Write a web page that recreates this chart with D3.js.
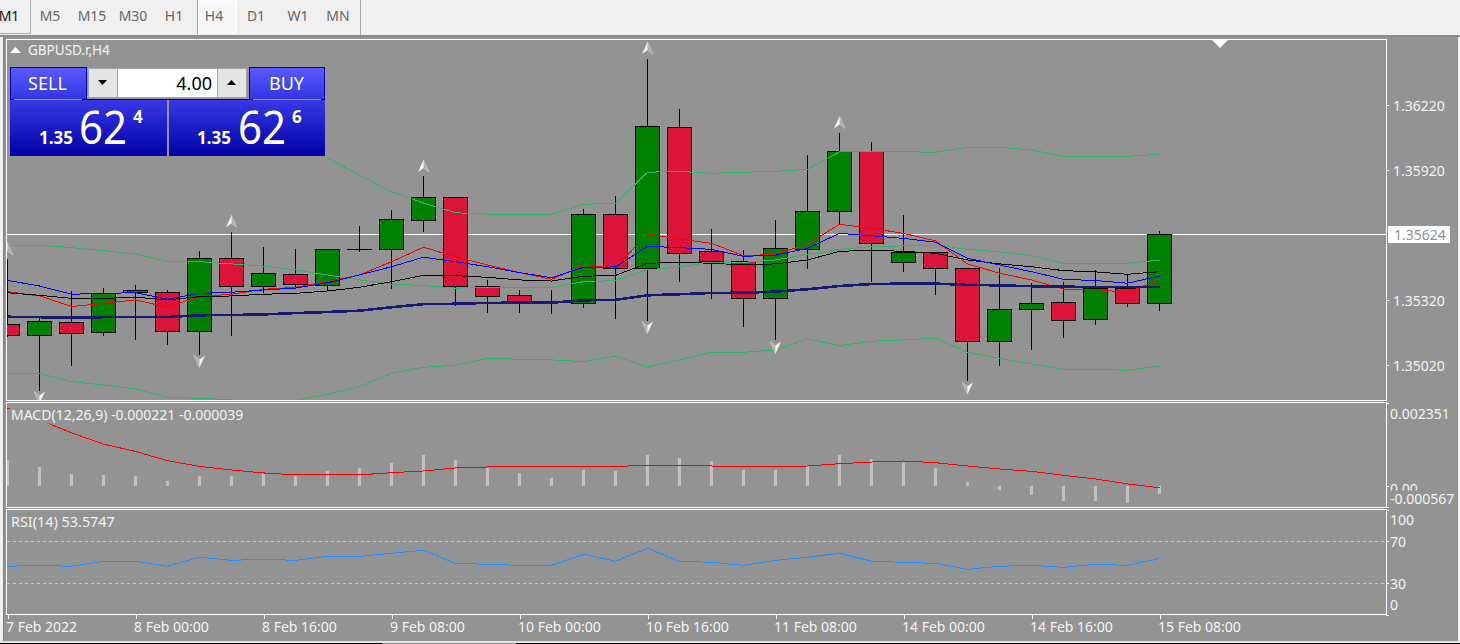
<!DOCTYPE html>
<html><head><meta charset="utf-8">
<script src="https://cdn.jsdelivr.net/npm/d3@7/dist/d3.min.js"></script>
<style>
html,body{margin:0;padding:0;background:#939393;overflow:hidden}
svg{display:block}
text{font-family:"Noto Sans",sans-serif}
</style></head><body><div id="chart"></div>
<script>
const tfLabels=["M1","M5","M15","M30","H1","H4","D1","W1","MN"];
const timeTickBars=[0,4,8,12,16,20,24,28,32,36];
const timeTickLabels=["7 Feb 2022","8 Feb 00:00","8 Feb 16:00","9 Feb 08:00","10 Feb 00:00","10 Feb 16:00","11 Feb 08:00","14 Feb 00:00","14 Feb 16:00","15 Feb 08:00"];
const priceTicks=[1.36220,1.35920,1.35320,1.35020];
const rsiTicks=[100,70,30,0];
const rsiLevels=[70,30];
const macdTicks=[0.002351,0,-0.000567];

const open=[1.35209,1.35157,1.35219,1.35172,1.35366,1.35357,1.35177,1.35514,1.35385,1.35440,1.35387,1.35555,1.35556,1.35687,1.35796,1.35383,1.35343,1.35309,1.35306,1.35717,1.35469,1.36118,1.35546,1.35498,1.35329,1.35556,1.35731,1.36008,1.35494,1.35542,1.35468,1.35131,1.35279,1.35311,1.35232,1.35376,1.35306];
const high=[1.35511,1.35242,1.35363,1.35380,1.35395,1.35368,1.35548,1.35639,1.35566,1.35557,1.35556,1.35663,1.35737,1.35894,1.35801,1.35414,1.35372,1.35368,1.35742,1.35806,1.36438,1.36206,1.35652,1.35556,1.35691,1.35991,1.36095,1.36055,1.35718,1.35545,1.35468,1.35472,1.35400,1.35409,1.35463,1.35438,1.35643];
const low=[1.35151,1.34906,1.35018,1.35157,1.35137,1.35114,1.35072,1.35157,1.35355,1.35376,1.35364,1.35544,1.35376,1.35637,1.35294,1.35263,1.35263,1.35257,1.35286,1.35235,1.35229,1.35406,1.35329,1.35198,1.35137,1.35466,1.35668,1.35409,1.35451,1.35346,1.34949,1.35017,1.35092,1.35146,1.35208,1.35291,1.35275];
const close=[1.35157,1.35223,1.35166,1.35352,1.35355,1.35177,1.35514,1.35383,1.35445,1.35392,1.35556,1.35556,1.35691,1.35796,1.35383,1.35337,1.35311,1.35310,1.35717,1.35466,1.36123,1.35537,1.35498,1.35329,1.35560,1.35731,1.36008,1.35583,1.35542,1.35468,1.35131,1.35279,1.35306,1.35228,1.35376,1.35306,1.35624];

const bbUpper=[null,null,null,null,null,null,null,null,null,null,1.35977,1.35898,1.35820,1.35769,1.35724,1.35718,1.35717,1.35717,1.35763,1.35768,1.35911,1.35915,1.35906,1.35911,1.35915,1.35925,1.36005,1.36005,1.36006,1.36003,1.36026,1.36026,1.36014,1.35985,1.35985,1.35985,1.35994];
const bbMiddle=[1.35575,1.35574,1.35563,1.35549,1.35534,1.35500,1.35498,1.35488,1.35478,1.35460,1.35437,1.35414,1.35395,1.35388,1.35376,1.35380,1.35380,1.35380,1.35406,1.35411,1.35460,1.35475,1.35495,1.35495,1.35506,1.35532,1.35555,1.35568,1.35571,1.35575,1.35555,1.35544,1.35526,1.35491,1.35491,1.35491,1.35505];
const bbLower=[1.34980,1.34983,1.34945,1.34929,1.34911,1.34872,1.34868,1.34860,1.34846,1.34858,1.34886,1.34921,1.34983,1.35011,1.35020,1.35052,1.35048,1.35045,1.35037,1.35063,1.35011,1.35045,1.35080,1.35080,1.35091,1.35142,1.35111,1.35131,1.35137,1.35145,1.35080,1.35052,1.35026,1.35002,1.35002,1.34997,1.35016];
const maRed=[1.35360,1.35340,1.35291,1.35306,1.35322,1.35288,1.35337,1.35348,1.35371,1.35380,1.35406,1.35437,1.35498,1.35565,1.35521,1.35483,1.35448,1.35417,1.35480,1.35472,1.35625,1.35603,1.35583,1.35526,1.35532,1.35579,1.35671,1.35652,1.35629,1.35594,1.35488,1.35445,1.35414,1.35372,1.35371,1.35355,1.35417];
const maBlue=[1.35412,1.35386,1.35348,1.35352,1.35355,1.35325,1.35352,1.35357,1.35368,1.35376,1.35401,1.35437,1.35475,1.35519,1.35498,1.35475,1.35448,1.35424,1.35472,1.35474,1.35569,1.35563,1.35555,1.35523,1.35528,1.35560,1.35629,1.35618,1.35606,1.35588,1.35514,1.35483,1.35452,1.35417,1.35411,1.35399,1.35432];
const maBlack=[1.35355,1.35343,1.35329,1.35329,1.35334,1.35322,1.35337,1.35340,1.35348,1.35352,1.35363,1.35380,1.35406,1.35435,1.35434,1.35426,1.35414,1.35409,1.35431,1.35435,1.35491,1.35495,1.35491,1.35483,1.35488,1.35506,1.35546,1.35551,1.35546,1.35537,1.35506,1.35488,1.35475,1.35457,1.35451,1.35440,1.35452];
const maNavy=[1.35244,1.35242,1.35240,1.35242,1.35242,1.35243,1.35251,1.35252,1.35255,1.35261,1.35266,1.35272,1.35288,1.35302,1.35304,1.35308,1.35309,1.35309,1.35320,1.35322,1.35343,1.35348,1.35354,1.35355,1.35360,1.35371,1.35386,1.35395,1.35397,1.35397,1.35391,1.35389,1.35385,1.35383,1.35381,1.35381,1.35381];

const fractalUp=[0,7,13,20,26];
const fractalDown=[1,6,20,24,30];

const macdHist=[.000757,.000533,.000337,.000309,.000281,.00014,.000281,.000281,.000337,.000281,.000421,.000505,.000673,.000898,.00073,.000505,.000365,.000224,.000449,.000421,.000898,.000814,.000702,.000449,.000449,.000589,.000898,.000786,.000673,.000505,.000112,-.000112,-.000253,-.000421,-.000421,-.000477,-.000221];
const macdSignal=[.002203,.001874,.00151,.001193,.000985,.000724,.000564,.000463,.000379,.000323,.000323,.000323,.000387,.000435,.000519,.000547,.000547,.000547,.000547,.000556,.000603,.000603,.000575,.000547,.000547,.000575,.00064,.000687,.000716,.000668,.000575,.000491,.000424,.000311,.00021,.00007,-.000039];
const rsiValues=[46.2,47.1,46.2,51,51,46.2,54.8,51.9,52.9,51.9,55.7,55.7,58.6,61.4,49,48.1,47.1,47.1,57.6,51,63.3,51,50,47.1,51.9,54.8,58.6,51,50,49,43.3,46.2,47.1,45.2,48.1,47.1,53.5747];

const W=1460,H=644,BG="#939393",FG="#f4f4f4";
const svg=d3.select("#chart").append("svg").attr("width",W).attr("height",H);
const defs=svg.append("defs");
function grad(id,a,b){const g=defs.append("linearGradient").attr("id",id).attr("x1",0).attr("x2",0).attr("y1",0).attr("y2",1);
  g.append("stop").attr("offset",0).attr("stop-color",a);g.append("stop").attr("offset",1).attr("stop-color",b);}
grad("gTop","#5a5aff","#3434e4");grad("gLow","#3838e6","#0000a6");
function clip(id,x,y,w,h){defs.append("clipPath").attr("id",id).append("rect").attr("x",x).attr("y",y).attr("width",w).attr("height",h);}
clip("cMain",7,40,1379,360);clip("cMacd",7,403,1379,104);clip("cRsi",7,510,1379,104);clip("cZero",0,-12,70,15.5);

/* scales */
const x=d3.scaleLinear().domain([0,36]).range([7.5,1159.5]);
const yP=d3.scaleLinear().domain([1.3502,1.3622]).range([365.3,105.3]);
const yM=d3.scaleLinear().domain([-.000567,.002351]).range([506.5,403]);
const yR=d3.scaleLinear().domain([0,100]).range([614.8,509.8]);
const snap=v=>Math.round(v-.5)+.5;

/* window chrome */
svg.append("rect").attr("width",W).attr("height",H).attr("fill",BG);
svg.append("rect").attr("width",W).attr("height",35).attr("fill","#f0f0f0");
svg.append("rect").attr("y",35).attr("width",W).attr("height",2).attr("fill","#8a8a8a");
svg.append("rect").attr("y",37).attr("width",3).attr("height",H).attr("fill","#f0f0f0");
svg.append("rect").attr("x",3).attr("y",37).attr("width",1).attr("height",H).attr("fill","#808080");
svg.append("rect").attr("x",1458).attr("y",37).attr("width",2).attr("height",H).attr("fill","#f0f0f0");
svg.append("rect").attr("y",641).attr("width",W).attr("height",2).attr("fill","#e4e4e4");
svg.selectAll("rect.blk").data([[0,382],[516,W]]).join("rect").attr("class","blk").attr("x",d=>d[0]).attr("y",643).attr("width",d=>d[1]-d[0]).attr("height",1).attr("fill","#000");

/* toolbar */
const tbX=[9,50,92,133,174,214,256,298,338];
svg.append("rect").attr("x",198).attr("y",0).attr("width",38).attr("height",33).attr("fill","#f7f7f7").attr("stroke","#fff");
svg.selectAll("rect.sep").data([[30,0,1,34],[197,0,1,34],[360,0,1,35],[0,33,31,1]]).join("rect").attr("class","sep")
 .attr("x",d=>d[0]).attr("y",d=>d[1]).attr("width",d=>d[2]).attr("height",d=>d[3]).attr("fill","#a8a8a8");
svg.selectAll("text.tf").data(tfLabels).join("text").attr("class","tf").attr("x",(d,i)=>tbX[i]).attr("y",21)
 .attr("text-anchor","middle").attr("font-size",14).attr("fill",(d,i)=>i==0?"#111":"#666").text(d=>d);

/* panel frames */
const frames=[[6.5,39.5,1380,361],[6.5,402.5,1380,104.5],[6.5,509.5,1380,105]];
svg.selectAll("rect.fr").data(frames).join("rect").attr("class","fr").attr("x",d=>d[0]).attr("y",d=>d[1]).attr("width",d=>d[2]).attr("height",d=>d[3])
 .attr("fill","none").attr("stroke","#fff").attr("shape-rendering","crispEdges");

/* main pane */
const main=svg.append("g").attr("clip-path","url(#cMain)").attr("shape-rendering","crispEdges");
const last=close[close.length-1];
main.append("line").attr("x1",7).attr("x2",1386).attr("y1",snap(yP(last))).attr("y2",snap(yP(last))).attr("stroke","#fff");
const idx=d3.range(open.length);
main.selectAll("line.w").data(idx).join("line").attr("class","w").attr("x1",x).attr("x2",x)
 .attr("y1",i=>snap(yP(high[i]))).attr("y2",i=>snap(yP(low[i]))).attr("stroke","#000");
main.selectAll("rect.b").data(idx).join("rect").attr("class","b").attr("x",i=>x(i)-12).attr("width",24)
 .attr("y",i=>snap(yP(Math.max(open[i],close[i])))).attr("height",i=>Math.max(.01,snap(yP(Math.min(open[i],close[i])))-snap(yP(Math.max(open[i],close[i])))))
 .attr("fill",i=>close[i]>=open[i]?"#008000":"#dc143c").attr("stroke","#000");
const lineP=d3.line().defined(d=>d!=null).x((d,i)=>x(i)).y(d=>yP(d));
[[bbUpper,"#2fb56c",1],[bbMiddle,"#2fb56c",1],[bbLower,"#2fb56c",1],[maRed,"#ff0000",1],[maBlack,"#000",1],[maBlue,"#0000ff",1],[maNavy,"#191970",2.6]].forEach(s=>{
  main.append("path").attr("d",lineP(s[0])).attr("fill","none").attr("stroke",s[1]).attr("stroke-width",s[2]);
});
/* fractal arrows */
const frac=svg.append("g").attr("clip-path","url(#cMain)");
function arrow(i,yy,rot){const g=frac.append("g").attr("transform",`translate(${x(i)},${yy}) rotate(${rot})`);
  g.append("path").attr("d","M0,-6L5.5,6L0,2Z").attr("fill","#aeaeae").attr("stroke","#c6c6c6").attr("stroke-width",.8);
  g.append("path").attr("d","M0,-6L-5.5,6L0,2Z").attr("fill","#f8f6e6");}
fractalUp.forEach(i=>arrow(i,yP(high[i])-10,0));
fractalDown.forEach(i=>arrow(i,yP(low[i])+7.5,180));

/* MACD pane */
const macd=svg.append("g").attr("clip-path","url(#cMacd)").attr("shape-rendering","crispEdges");
macd.selectAll("rect").data(macdHist).join("rect").attr("x",(d,i)=>x(i)-1.5).attr("width",3)
 .attr("y",d=>Math.min(yM(d),yM(0))).attr("height",d=>Math.abs(yM(d)-yM(0))).attr("fill","#c0c0c0");
macd.append("path").attr("d",d3.line().x((d,i)=>x(i)).y(d=>yM(d))(macdSignal)).attr("fill","none").attr("stroke","#ff0000");
svg.append("rect").attr("x",10).attr("y",408.5).attr("width",236).attr("height",15).attr("fill",BG);

/* RSI pane */
const rsi=svg.append("g").attr("clip-path","url(#cRsi)").attr("shape-rendering","crispEdges");
rsi.selectAll("line").data(rsiLevels).join("line").attr("x1",7).attr("x2",1386).attr("y1",d=>snap(yR(d))).attr("y2",d=>snap(yR(d)))
 .attr("stroke","#c8c8c8").attr("stroke-dasharray","3,3");
rsi.append("path").attr("d",d3.line().x((d,i)=>x(i)).y(d=>yR(d))(rsiValues)).attr("fill","none").attr("stroke","#1e90ff");

/* axes */
function styleAxis(g){g.select(".domain").remove();
  g.selectAll(".tick line").attr("stroke","#fff").attr("shape-rendering","crispEdges");
  g.selectAll(".tick text").attr("fill",FG).attr("font-family",'"Noto Sans",sans-serif');}
const gp=svg.append("g").attr("transform","translate(1386,0)").call(d3.axisRight(yP).tickValues(priceTicks).tickSize(3).tickPadding(4).tickFormat(d3.format(".5f")))
 .attr("font-size",14).call(styleAxis);
gp.selectAll(".tick text").attr("dy","0.4em");
const gm=svg.append("g").attr("transform","translate(1386,0)").call(d3.axisRight(yM).tickValues(macdTicks).tickSize(3).tickPadding(1).tickFormat(d=>d===0?"0.00":d3.format(".6f")(d).replace("−","-")))
 .attr("font-size",14).call(styleAxis);
gm.selectAll(".tick").filter(d=>d===.002351).select("text").attr("dy","1.1em");
gm.selectAll(".tick").filter(d=>d===-.000567).select("text").attr("dy","-0.24em");
gm.selectAll(".tick").filter(d=>d===0).select("text").attr("dy","0.5em").attr("clip-path","url(#cZero)");
const gr=svg.append("g").attr("transform","translate(1386,0)").call(d3.axisRight(yR).tickValues(rsiTicks).tickSize(3).tickPadding(1))
 .attr("font-size",14).call(styleAxis);
gr.selectAll(".tick text").attr("dy","0.4em");
gr.selectAll(".tick").filter(d=>d===100).select("text").attr("dy","1.05em");
gr.selectAll(".tick").filter(d=>d===0).select("text").attr("dy","-0.36em");
const gt=svg.append("g").attr("transform","translate(0,615)").call(d3.axisBottom(x).tickValues(timeTickBars).tickSize(4).tickPadding(3).tickFormat((d,i)=>timeTickLabels[i]))
 .attr("font-size",14).call(styleAxis);
gt.selectAll(".tick text").attr("text-anchor","start").attr("x",-2);

/* current price label */
svg.append("rect").attr("x",1388).attr("y",226).attr("width",62).attr("height",17).attr("fill","#fff");
svg.append("text").attr("x",1394).attr("y",yP(last)+6).attr("font-size",14).attr("fill",BG).text(d3.format(".5f")(last));

/* scroll marker and titles */
svg.append("path").attr("d",d3.line()([[1212,40],[1228,40],[1220,48]])+"Z").attr("fill","#fff");
svg.append("path").attr("d",d3.line()([[10,53],[21,53],[15.5,47]])+"Z").attr("fill","#fff");
const title=(t,xx,yy,fs)=>svg.append("text").attr("x",xx).attr("y",yy).attr("font-size",fs).attr("fill",FG).text(t);
title("GBPUSD.r,H4",28,55,13.5);
title("MACD(12,26,9) -0.000221 -0.000039",11,420,14);
title("RSI(14) 53.5747",11,527,14.4);

/* one-click trading panel */
const tp=svg.append("g");
const box=(xx,yy,w,h,f,st)=>tp.append("rect").attr("x",xx).attr("y",yy).attr("width",w).attr("height",h).attr("fill",f).attr("stroke",st||"none").attr("shape-rendering","crispEdges");
box(10.5,67.5,75.5,32,"url(#gTop)","#0000b0");box(249.5,67.5,75,32,"url(#gTop)","#0000b0");
box(86,99,163,1,"#0000b0");
box(10,100,157,56,"url(#gLow)");box(169,100,156,56,"url(#gLow)");
box(14,99,68,1,"#9090ff");box(253,99,68,1,"#9090ff");
box(88.5,68.5,158,29,"#e4e4e4","#a6a6a6");box(118,69,99,28,"#fff");
box(117,69,1,28,"#a6a6a6");box(217,69,1,28,"#a6a6a6");
tp.append("path").attr("d",d3.line()([[98,80],[107,80],[102.5,85]])+"Z").attr("fill","#000");
tp.append("path").attr("d",d3.line()([[227,85],[236,85],[231.5,80]])+"Z").attr("fill","#000");
const tt=(t,xx,yy,fs,col,anch,bold,len)=>{const e=tp.append("text").attr("x",xx).attr("y",yy).attr("font-size",fs).attr("fill",col).attr("text-anchor",anch||"start").attr("font-weight",bold?"700":"400").text(t);
  if(len)e.attr("textLength",len).attr("lengthAdjust","spacingAndGlyphs");};
tt("SELL",47.5,90,18,"#fff","middle");tt("BUY",286.5,90,18,"#fff","middle");
tt("4.00",212,90,18,"#000","end");
tt("1.35",39,144,17,"#fff","start",true);tt("62",79,144,45,"#fff","start",false,48);tt("4",133,123,17,"#fff","start",true);
tt("1.35",197,144,17,"#fff","start",true);tt("62",238,144,45,"#fff","start",false,48);tt("6",292,123,17,"#fff","start",true);
</script></body></html>
